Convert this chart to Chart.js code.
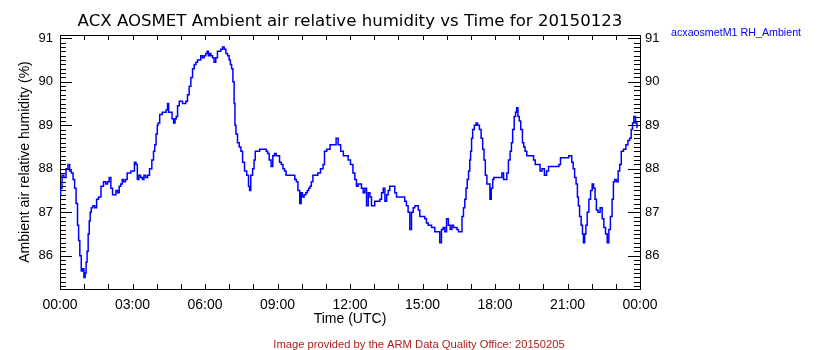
<!DOCTYPE html>
<html>
<head>
<meta charset="utf-8">
<script src="https://cdn.jsdelivr.net/npm/chart.js@4.4.1/dist/chart.umd.min.js"></script>
<style>
  html, body { margin: 0; padding: 0; background: #fff; }
  #wrap { width: 840px; height: 350px; }
</style>
</head>
<body>
<div id="wrap"><canvas id="c" width="840" height="350"></canvas></div>
<script>
// Texts
const titleText = 'ACX AOSMET Ambient air relative humidity vs Time for 20150123';
const seriesName = 'acxaosmetM1 RH_Ambient';
const xAxisTitle = 'Time (UTC)';
const yAxisTitle = 'Ambient air relative humidity (%)';
const footerText = 'Image provided by the ARM Data Quality Office: 20150205';
const timeTickLabels = ['00:00', '03:00', '06:00', '09:00', '12:00', '15:00', '18:00', '21:00', '00:00'];

// Time of day (hours, UTC) and relative humidity (%)
const hours = [
  0.00, 0.05, 0.12, 0.20, 0.30, 0.36, 0.44, 0.50, 0.58, 0.63, 0.70, 0.75, 0.79, 0.85, 0.91, 0.96,
  1.02, 1.06, 1.10, 1.14, 1.19, 1.23, 1.27, 1.32, 1.40, 1.48, 1.55, 1.64, 1.75, 1.85, 1.93,
  2.00, 2.07, 2.14, 2.21, 2.28, 2.35, 2.42, 2.48, 2.55, 2.60, 2.67, 2.75, 2.81, 2.90, 2.97,
  3.04, 3.12, 3.17, 3.23, 3.30, 3.37, 3.45, 3.50, 3.59, 3.66, 3.75, 3.85, 3.89, 3.95,
  4.00, 4.05, 4.07, 4.18, 4.28, 4.35, 4.43, 4.47, 4.52, 4.60, 4.67, 4.73, 4.79, 4.83, 4.90, 4.97,
  5.04, 5.10, 5.17, 5.24, 5.31, 5.38, 5.45, 5.52, 5.59, 5.66, 5.72, 5.79, 5.86, 5.93,
  6.00, 6.07, 6.11, 6.17, 6.21, 6.28, 6.34, 6.41, 6.48, 6.55, 6.62, 6.69, 6.76, 6.83, 6.90, 6.97,
  7.03, 7.07, 7.13, 7.18, 7.23, 7.25, 7.31, 7.38, 7.45, 7.52, 7.59, 7.68, 7.77, 7.83, 7.86, 7.93,
  8.01, 8.05, 8.11, 8.22, 8.30, 8.39, 8.50, 8.57, 8.61, 8.70, 8.77, 8.84, 8.91, 8.98,
  9.05, 9.12, 9.19, 9.26, 9.32, 9.39, 9.46, 9.53, 9.61, 9.68, 9.75, 9.81, 9.88, 9.96,
  10.00, 10.06, 10.14, 10.20, 10.26, 10.32, 10.37, 10.43, 10.50, 10.57, 10.63, 10.70, 10.86, 10.91, 10.98,
  11.09, 11.26, 11.39, 11.46, 11.56, 11.67, 11.78, 11.88, 11.97,
  12.07, 12.17, 12.23, 12.30, 12.37, 12.44, 12.51, 12.58, 12.65, 12.72, 12.79, 12.86, 12.92, 12.99,
  13.06, 13.13, 13.20, 13.27, 13.34, 13.41, 13.48, 13.55, 13.61, 13.68, 13.75, 13.82, 13.89, 13.96,
  14.03, 14.10, 14.17, 14.23, 14.30, 14.37, 14.44, 14.51, 14.58, 14.65, 14.72, 14.79, 14.86, 14.92,
  15.06, 15.13, 15.20, 15.27, 15.34, 15.41, 15.48, 15.54, 15.61, 15.68, 15.75, 15.82, 15.89, 15.96,
  16.03, 16.11, 16.18, 16.25, 16.32, 16.39, 16.46, 16.52, 16.61, 16.66, 16.73, 16.77, 16.83, 16.87, 16.94, 16.97,
  17.01, 17.05, 17.10, 17.19, 17.24, 17.32, 17.39, 17.46, 17.52, 17.57, 17.63, 17.70, 17.77, 17.81, 17.88, 17.93, 17.97,
  18.04, 18.11, 18.18, 18.25, 18.32, 18.39, 18.46, 18.52, 18.59, 18.66, 18.70, 18.76, 18.83, 18.87, 18.92, 18.98,
  19.03, 19.10, 19.17, 19.21, 19.28, 19.35, 19.45, 19.56, 19.63, 19.70, 19.83, 19.90, 19.99,
  20.10, 20.17, 20.26, 20.33, 20.40, 20.47, 20.54, 20.61, 20.68, 20.74, 20.81, 20.88, 20.95,
  21.02, 21.09, 21.15, 21.20, 21.27, 21.32, 21.39, 21.43, 21.47, 21.53, 21.60, 21.64, 21.68, 21.74, 21.78, 21.85, 21.92, 21.99,
  22.05, 22.11, 22.17, 22.22, 22.30, 22.40, 22.47, 22.54, 22.61, 22.68, 22.74, 22.81, 22.88, 22.92, 22.99,
  23.06, 23.13, 23.19, 23.26, 23.37, 23.46, 23.54, 23.60, 23.67, 23.71, 23.78, 23.85, 23.90
];
const rhValues = [
  87.40, 87.55, 87.85, 87.80, 88.00, 88.10, 87.95, 87.90, 87.75, 87.55, 87.20, 86.70, 86.35, 86.00, 85.65, 85.70,
  85.50, 85.60, 85.85, 86.10, 86.50, 86.80, 87.00, 87.10, 87.15, 87.10, 87.30, 87.35, 87.60, 87.70, 87.65,
  87.70, 87.80, 87.55, 87.40, 87.40, 87.50, 87.45, 87.60, 87.65, 87.75, 87.70, 87.75, 87.90, 87.90, 87.95,
  87.95, 88.15, 88.10, 87.75, 87.85, 87.80, 87.75, 87.85, 87.80, 87.85, 88.00, 88.20, 88.40, 88.55,
  88.80, 89.00, 89.05, 89.25, 89.30, 89.30, 89.35, 89.50, 89.30, 89.30, 89.15, 89.05, 89.15, 89.20, 89.45, 89.55,
  89.55, 89.50, 89.50, 89.55, 89.70, 89.90, 90.10, 90.30, 90.40, 90.45, 90.50, 90.50, 90.60, 90.55,
  90.60, 90.65, 90.70, 90.60, 90.65, 90.60, 90.55, 90.45, 90.55, 90.70, 90.70, 90.75, 90.80, 90.75, 90.65, 90.60,
  90.50, 90.40, 90.30, 90.00, 89.50, 89.00, 88.80, 88.60, 88.50, 88.40, 88.15, 87.95, 87.85, 87.60, 87.50, 87.85,
  88.00, 88.20, 88.40, 88.40, 88.45, 88.45, 88.45, 88.40, 88.35, 88.20, 88.05, 88.30, 88.35, 88.30,
  88.30, 88.15, 88.10, 88.00, 87.95, 87.85, 87.85, 87.85, 87.85, 87.85, 87.75, 87.70, 87.50, 87.20,
  87.45, 87.35, 87.40, 87.45, 87.50, 87.55, 87.60, 87.70, 87.85, 87.85, 87.85, 87.90, 88.00, 88.10, 88.40,
  88.45, 88.55, 88.55, 88.70, 88.55, 88.40, 88.30, 88.30, 88.20,
  88.10, 87.90, 87.75, 87.60, 87.65, 87.65, 87.55, 87.45, 87.55, 87.15, 87.45, 87.35, 87.15, 87.15,
  87.25, 87.25, 87.25, 87.30, 87.45, 87.55, 87.25, 87.40, 87.50, 87.60, 87.60, 87.60, 87.45, 87.35,
  87.35, 87.35, 87.35, 87.35, 87.25, 87.15, 87.00, 86.60, 87.00, 87.10, 87.15, 87.15, 87.05, 86.90,
  86.90, 86.85, 86.75, 86.70, 86.70, 86.65, 86.65, 86.55, 86.55, 86.55, 86.30, 86.60, 86.65, 86.55,
  86.85, 86.70, 86.60, 86.70, 86.65, 86.65, 86.60, 86.55, 86.55, 86.90, 87.10, 87.30, 87.55, 87.75, 87.95, 88.20,
  88.40, 88.70, 88.90, 89.00, 89.05, 89.00, 88.90, 88.70, 88.45, 88.20, 87.85, 87.65, 87.65, 87.30, 87.55, 87.75, 87.80,
  87.80, 87.80, 87.80, 87.80, 87.90, 87.75, 87.75, 87.90, 88.20, 88.40, 88.60, 88.90, 89.20, 89.30, 89.40, 89.20,
  89.10, 88.90, 88.60, 88.50, 88.40, 88.30, 88.30, 88.30, 88.20, 88.10, 88.10, 87.95, 88.00,
  87.85, 87.95, 88.05, 88.05, 88.05, 88.05, 88.05, 88.05, 88.10, 88.25, 88.25, 88.25, 88.25,
  88.25, 88.30, 88.30, 88.15, 88.00, 87.80, 87.65, 87.35, 87.15, 86.90, 86.70, 86.50, 86.30, 86.50, 86.70, 87.00, 87.30, 87.50,
  87.65, 87.55, 87.30, 87.05, 87.00, 87.10, 86.85, 86.65, 86.50, 86.30, 86.60, 86.90, 87.30, 87.70, 87.75,
  87.70, 87.95, 88.10, 88.40, 88.45, 88.55, 88.65, 88.70, 88.90, 89.05, 89.20, 89.05, 88.95
];

const FONT = "'Liberation Sans', Arial, Helvetica, sans-serif";
const TITLE_FONT = "'DejaVu Sans', Verdana, sans-serif";
const Y_MIN = 85.234;
const Y_MAX = 91.076;

const points = hours.map((h, i) => ({ x: h, y: rhValues[i] }));

// Box frame, inward tick marks and the free-standing texts
const decorations = {
  id: 'decorations',
  beforeDatasetsDraw(chart) {
    const { ctx, chartArea: a, scales } = chart;
    const xs = scales.x, ys = scales.y;
    ctx.save();
    ctx.strokeStyle = '#000';
    ctx.lineWidth = 1;
    ctx.strokeRect(a.left + 0.5, a.top + 0.5, a.right - a.left, a.bottom - a.top);
    ctx.beginPath();
    // value ticks: majors every 1 %, minors every 0.1 %
    for (let k = Math.ceil(Y_MIN * 10); k <= Math.floor(Y_MAX * 10); k++) {
      const py = Math.round(ys.getPixelForValue(k / 10)) + 0.5;
      const len = k % 10 === 0 ? 12 : 6;
      ctx.moveTo(a.left, py); ctx.lineTo(a.left + len, py);
      ctx.moveTo(a.right, py); ctx.lineTo(a.right - len, py);
    }
    // time ticks every hour, bottom and top
    for (let h = 0; h <= 24; h++) {
      const px = Math.round(xs.getPixelForValue(h)) + 0.5;
      ctx.moveTo(px, a.bottom); ctx.lineTo(px, a.bottom - 5);
      ctx.moveTo(px, a.top); ctx.lineTo(px, a.top + 5);
    }
    ctx.stroke();
    ctx.restore();
  },
  afterDraw(chart) {
    const { ctx, chartArea: a } = chart;
    const cx = (a.left + a.right) / 2;
    ctx.save();
    ctx.textBaseline = 'middle';
    ctx.fillStyle = '#000';
    ctx.textAlign = 'center';
    ctx.font = '16.6px ' + TITLE_FONT;
    ctx.fillText(titleText, cx, 22);
    ctx.font = '14px ' + FONT;
    ctx.fillText(xAxisTitle, cx, 319);
    ctx.save();
    ctx.translate(25, (a.top + a.bottom) / 2);
    ctx.rotate(-Math.PI / 2);
    ctx.fillText(yAxisTitle, 0, 0);
    ctx.restore();
    ctx.font = '10.7px ' + FONT;
    ctx.fillStyle = '#0000ff';
    ctx.textAlign = 'left';
    ctx.fillText(seriesName, 671, 33);
    ctx.font = '11.2px ' + FONT;
    ctx.fillStyle = '#b01c1c';
    ctx.textAlign = 'center';
    ctx.fillText(footerText, 419, 345);
    ctx.restore();
  }
};

const yTicks = (pad) => ({
  stepSize: 1,
  includeBounds: false,
  padding: pad,
  color: '#000',
  font: { family: FONT, size: 13 },
  callback: (v) => String(v)
});

new Chart(document.getElementById('c'), {
  type: 'line',
  data: {
    datasets: [{
      label: seriesName,
      data: points,
      borderColor: '#0000ff',
      borderWidth: 1.5,
      pointRadius: 0,
      stepped: 'middle',
      fill: false
    }]
  },
  options: {
    responsive: false,
    animation: false,
    events: [],
    layout: { padding: { top: 35, left: 0, right: 0, bottom: 0 } },
    plugins: { legend: { display: false }, title: { display: false }, tooltip: { enabled: false } },
    scales: {
      x: {
        type: 'linear',
        position: 'bottom',
        min: 0,
        max: 24,
        afterFit: (s) => { s.height = 61; },
        grid: { display: false, drawTicks: false },
        border: { display: false },
        ticks: {
          stepSize: 3,
          autoSkip: false,
          maxRotation: 0,
          padding: 8,
          color: '#000',
          font: { family: FONT, size: 14 },
          callback: (v) => timeTickLabels[Math.round(v / 3)]
        }
      },
      y: {
        type: 'linear',
        position: 'left',
        min: Y_MIN,
        max: Y_MAX,
        afterFit: (s) => { s.width = 60; },
        grid: { display: false, drawTicks: false },
        border: { display: false },
        ticks: yTicks(7)
      },
      y2: {
        type: 'linear',
        position: 'right',
        min: Y_MIN,
        max: Y_MAX,
        afterFit: (s) => { s.width = 200; },
        grid: { display: false, drawTicks: false },
        border: { display: false },
        ticks: yTicks(5)
      }
    }
  },
  plugins: [decorations]
});
</script>
</body>
</html>
